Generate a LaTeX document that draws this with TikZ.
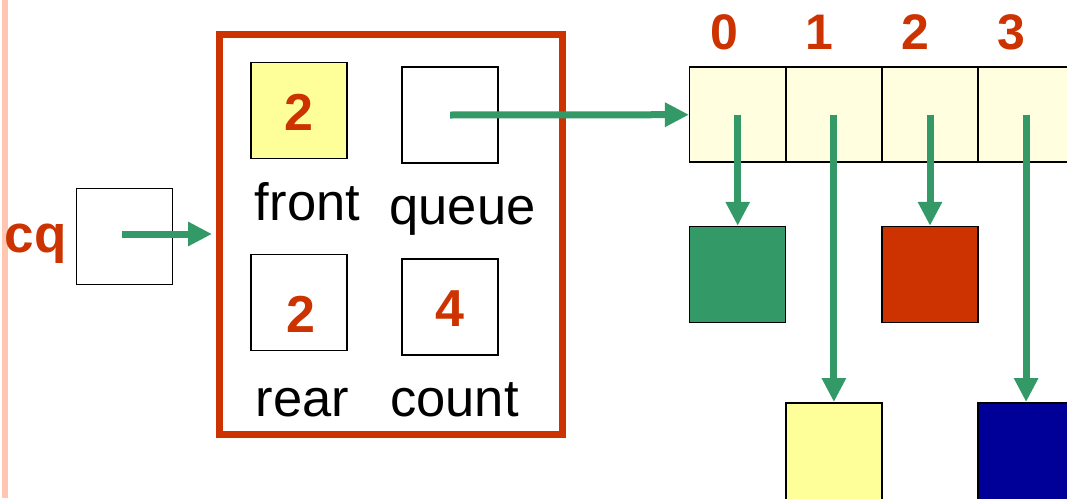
\documentclass[tikz,border=0pt]{standalone}
\usepackage{fontspec}
\setmainfont{Liberation Sans}
\usetikzlibrary{arrows.meta}
\definecolor{qgreen}{HTML}{339966}
\definecolor{qred}{HTML}{CC3300}
\definecolor{qyellow}{HTML}{FFFF99}
\definecolor{qcell}{HTML}{FFFFDF}
\definecolor{qblue}{HTML}{000099}
\definecolor{qpink}{HTML}{FFC6B2}
\begin{document}
\begin{tikzpicture}[x=1pt,y=-1pt,
  box/.style={draw=black, line width=1.5pt, minimum width=96pt, minimum height=96pt, inner sep=0pt, anchor=center},
  cellbox/.style={box, fill=qcell, minimum height=95pt},
  lbl/.style={font=\fontsize{52.5}{62}\selectfont, anchor=base, inner sep=0pt},
  num/.style={font=\fontsize{52}{62}\selectfont\bfseries, text=qred, anchor=base, inner sep=0pt},
  idx/.style={font=\fontsize{50}{60}\selectfont\bfseries, text=qred, anchor=base, inner sep=0pt},
  arr/.style={draw=qgreen, line width=7pt, -{Triangle[length=24pt,width=23pt]}}
]
\useasboundingbox (0,0) rectangle (1067,498);
\clip (0,0) rectangle (1067,498);
% pink margin line
\fill[qpink] (2,0) rectangle (7.5,498);
% cq
\node[num, font=\fontsize{53}{62}\selectfont\bfseries] (cqlbl) at (35.5,252) {cq};
\node[box] (cq) at (124.5,236.5) {};
\coordinate (cqstart) at ([xshift=-2.5pt,yshift=2.5pt]cq.center);
% record
\node[draw=qred, line width=7pt, minimum width=343pt, minimum height=400pt, inner sep=0pt] (rec) at (391,234.5) {};
\node[box, fill=qyellow] (front) at (299.2,110.7) {};
\node[box] (queue) at (450,115) {};
\node[box] (rear) at (299.2,302.7) {};
\node[box] (count) at (450,306.9) {};
\node[num] (frontv) at (299,130) {2};
\node[num] (rearv) at (301,332.7) {2};
\node[num] (countv) at (450.3,326) {4};
\node[lbl] (frontl) at (307.5,220) {front};
\node[lbl] (queuel) at (462.5,224) {queue};
\node[lbl] (rearl) at (302.5,416.7) {rear};
\node[lbl] (countl) at (454.5,416.7) {count};
% array
\node[cellbox] (c0) at (737.7,114.7) {};
\node[cellbox] (c1) at (833.9,114.7) {};
\node[cellbox] (c2) at (930,114.7) {};
\node[cellbox] (c3) at (1026.1,114.7) {};
\node[idx] (i0) at (724,49) {0};
\node[idx] (i1) at (819,49) {1};
\node[idx] (i2) at (915,49) {2};
\node[idx] (i3) at (1011.5,49) {3};
% elements
\node[box, fill=qgreen] (e0) at (737.7,274.5) {};
\node[box, fill=qyellow, minimum height=104pt] (e1) at (833.9,454.75) {};
\node[box, fill=qred] (e2) at (930,274.5) {};
\node[box, fill=qblue, minimum height=104pt] (e3) at (1026.1,454.75) {};
% arrows
\draw[arr, shorten >=4pt] (cqstart) -- (cqstart -| rec.west);
\draw[arr] (queue.center) -- (c0.west);
\draw[arr] (c0.center) -- (e0.north);
\draw[arr] (c1.center) -- (e1.north);
\draw[arr] (c2.center) -- (e2.north);
\draw[arr] (c3.center) -- (e3.north);
\end{tikzpicture}
\end{document}
